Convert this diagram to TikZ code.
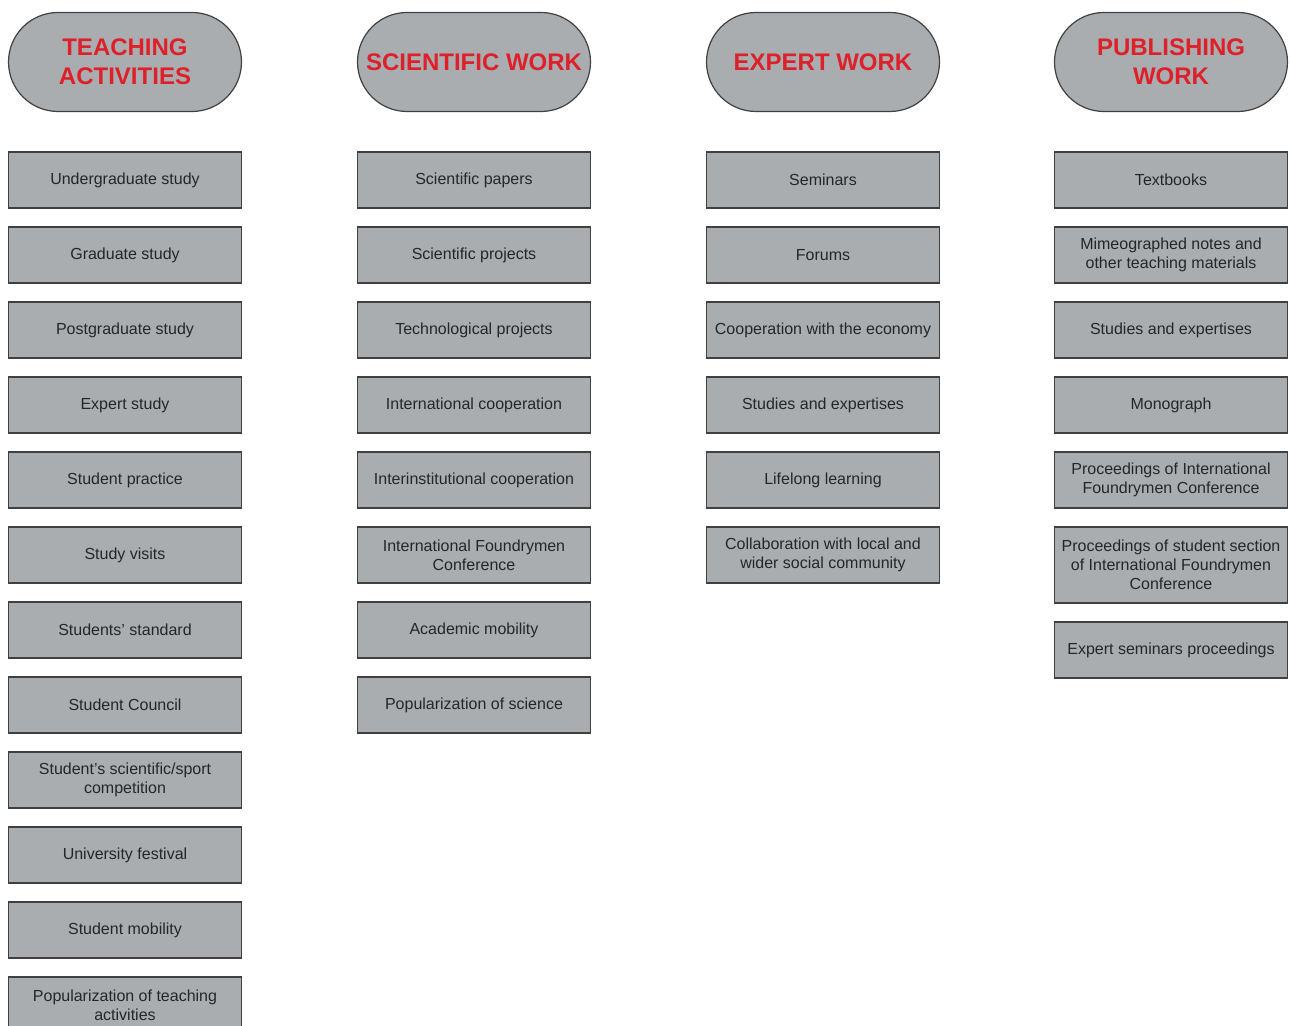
\documentclass[tikz,border=0pt]{standalone}
\usepackage{fontspec}
\setmainfont{Liberation Sans}
\usetikzlibrary{shapes.misc}
\definecolor{boxgray}{RGB}{169,173,176}
\definecolor{headred}{RGB}{222,32,42}
\begin{document}
\begin{tikzpicture}[
    x=0.5pt,y=-0.5pt,
    head/.style={rounded rectangle,draw=black!75,fill=boxgray,line width=0.6pt,
        minimum width=116.5pt,minimum height=49.5pt,inner sep=0pt,align=center,
        text=headred,font=\fontsize{12}{14.5}\selectfont\bfseries},
    item/.style={draw=black!75,fill=boxgray,line width=0.7pt,
        minimum width=116.5pt,minimum height=28pt,inner sep=1pt,align=center,
        text=black!85,font=\fontsize{8}{9.5}\selectfont}
]
\useasboundingbox (0,0) rectangle (1292,1026);

% column headings
\node[head] (teach) at (125,62) {TEACHING\\ACTIVITIES};
\node[head] (sci) at (474,62) {SCIENTIFIC WORK};
\node[head] (exp) at (823,62) {EXPERT WORK};
\node[head] (pub) at (1171,62) {PUBLISHING\\WORK};

% teaching activities
\node[item] (t1) at (125,180) {Undergraduate study};
\node[item] (t2) at (125,255) {Graduate study};
\node[item] (t3) at (125,330) {Postgraduate study};
\node[item] (t4) at (125,405) {Expert study};
\node[item] (t5) at (125,480) {Student practice};
\node[item] (t6) at (125,555) {Study visits};
\node[item] (t7) at (125,630) {Students' standard};
\node[item] (t8) at (125,705) {Student Council};
\node[item] (t9) at (125,780) {Student's scientific/sport\\competition};
\node[item] (t10) at (125,855) {University festival};
\node[item] (t11) at (125,930) {Student mobility};
\node[item] (t12) at (125,1005) {Popularization of teaching\\activities};

% scientific work
\node[item] (s1) at (474,180) {Scientific papers};
\node[item] (s2) at (474,255) {Scientific projects};
\node[item] (s3) at (474,330) {Technological projects};
\node[item] (s4) at (474,405) {International cooperation};
\node[item] (s5) at (474,480) {Interinstitutional cooperation};
\node[item] (s6) at (474,555) {International Foundrymen\\Conference};
\node[item] (s7) at (474,630) {Academic mobility};
\node[item] (s8) at (474,705) {Popularization of science};

% expert work
\node[item] (e1) at (823,180) {Seminars};
\node[item] (e2) at (823,255) {Forums};
\node[item] (e3) at (823,330) {Cooperation with the economy};
\node[item] (e4) at (823,405) {Studies and expertises};
\node[item] (e5) at (823,480) {Lifelong learning};
\node[item] (e6) at (823,555) {Collaboration with local and\\wider social community};

% publishing work
\node[item] (p1) at (1171,180) {Textbooks};
\node[item] (p2) at (1171,255) {Mimeographed notes and\\other teaching materials};
\node[item] (p3) at (1171,330) {Studies and expertises};
\node[item] (p4) at (1171,405) {Monograph};
\node[item] (p5) at (1171,480) {Proceedings of International\\Foundrymen Conference};
\node[item,minimum height=38pt] (p6) at (1171,565) {Proceedings of student section\\of International Foundrymen\\Conference};
\node[item] (p7) at (1171,650) {Expert seminars proceedings};
\end{tikzpicture}
\end{document}
